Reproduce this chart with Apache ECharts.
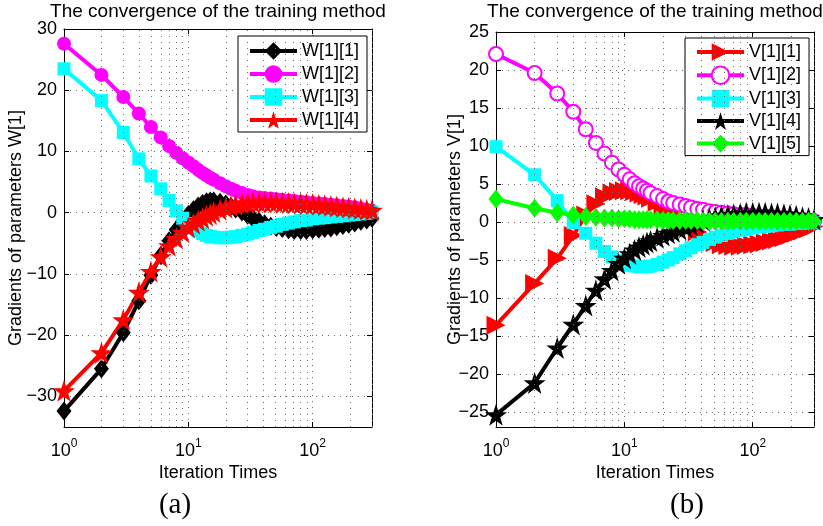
<!DOCTYPE html>
<html><head><meta charset="utf-8">
<script src="https://cdn.jsdelivr.net/npm/echarts@6/dist/echarts.min.js"></script>
<style>html,body{margin:0;padding:0;background:#fff}#c{width:823px;height:526px}</style>
</head><body><div id="c"></div>
<script>
// ---- data ----
const iterations = [1,2,3,4,5,6,7,8,9,10,11,12,13,14,15,16,18,20,22,24,27,30,33,37,41,46,51,57,64,71,80,89,100,112,125,140,156,175,195,218,244,272,300];

const W11 = [-32.4,-25.5,-19.6,-14.4,-10.2,-7.0,-4.6,-2.8,-1.4,-0.3,0.5,1.1,1.5,1.8,1.9,1.9,1.7,1.4,1.0,0.6,0.1,-0.4,-0.9,-1.4,-1.8,-2.2,-2.4,-2.6,-2.8,-2.9,-2.9,-2.9,-2.8,-2.7,-2.6,-2.5,-2.3,-2.1,-1.9,-1.7,-1.4,-1.2,-0.9];
const W12 = [27.6,22.5,18.9,16.2,14.0,12.3,10.9,9.8,8.9,8.2,7.6,7.0,6.5,6.1,5.7,5.4,4.8,4.3,3.9,3.6,3.2,2.9,2.7,2.5,2.4,2.3,2.2,2.1,2.0,1.9,1.8,1.7,1.6,1.5,1.4,1.3,1.2,1.1,1.0,0.9,0.7,0.5,0.3];
const W13 = [23.5,18.3,13.1,8.8,6.0,3.9,2.0,0.3,-0.9,-1.8,-2.5,-3.0,-3.4,-3.7,-3.9,-4.0,-4.1,-4.1,-4.0,-3.9,-3.7,-3.5,-3.2,-2.9,-2.7,-2.4,-2.2,-1.9,-1.7,-1.5,-1.3,-1.2,-1.0,-0.9,-0.8,-0.7,-0.6,-0.5,-0.4,-0.3,-0.2,-0.1,0.1];
const W14 = [-29.1,-22.9,-17.5,-13.0,-9.6,-7.2,-5.4,-4.2,-3.2,-2.4,-1.8,-1.3,-0.9,-0.5,-0.2,0.1,0.5,0.8,1.1,1.3,1.5,1.6,1.7,1.7,1.7,1.7,1.7,1.6,1.6,1.5,1.5,1.4,1.4,1.3,1.2,1.1,1.0,0.9,0.8,0.7,0.6,0.5,0.4];

const V11 = [-13.6,-8.1,-4.8,-1.8,0.9,2.4,3.3,3.8,4.0,4.1,4.1,4.0,3.8,3.6,3.4,3.1,2.6,2.1,1.6,1.2,0.6,0.0,-0.6,-1.3,-1.8,-2.3,-2.7,-3.0,-3.1,-3.2,-3.2,-3.1,-3.0,-2.9,-2.7,-2.5,-2.3,-2.1,-1.8,-1.5,-1.2,-0.9,-0.6];
const V12 = [22.1,19.6,16.9,14.5,12.2,10.4,9.0,7.8,6.9,6.2,5.6,5.1,4.7,4.4,4.1,3.8,3.4,3.0,2.7,2.5,2.3,2.1,1.9,1.7,1.6,1.4,1.3,1.2,1.1,1.0,0.9,0.9,0.8,0.7,0.7,0.6,0.5,0.5,0.4,0.3,0.3,0.2,0.1];
const V13 = [9.9,6.2,2.8,-0.1,-1.5,-2.8,-3.9,-4.6,-5.1,-5.5,-5.7,-5.8,-5.9,-5.9,-5.9,-5.8,-5.6,-5.3,-5.0,-4.7,-4.2,-3.8,-3.4,-3.0,-2.7,-2.3,-2.0,-1.8,-1.5,-1.3,-1.1,-1.0,-0.8,-0.7,-0.6,-0.5,-0.4,-0.3,-0.3,-0.2,-0.2,-0.1,-0.1];
const V14 = [-25.4,-21.2,-16.6,-13.5,-11.0,-9.0,-7.5,-6.4,-5.5,-4.8,-4.2,-3.7,-3.3,-3.0,-2.7,-2.5,-2.1,-1.8,-1.5,-1.3,-1.0,-0.7,-0.4,-0.1,0.2,0.4,0.6,0.8,0.9,1.0,1.1,1.2,1.2,1.2,1.2,1.1,1.1,1.0,0.9,0.8,0.6,0.5,0.3];
const V15 = [3.0,1.8,1.2,0.9,0.7,0.6,0.5,0.5,0.4,0.4,0.4,0.3,0.3,0.3,0.3,0.3,0.3,0.2,0.2,0.2,0.2,0.2,0.2,0.2,0.1,0.1,0.1,0.1,0.1,0.1,0.1,0.1,0.1,0.1,0.1,0.1,0.1,0.1,0.1,0.1,0.1,0.1,0.1];

const namesW = ['W[1][1]','W[1][2]','W[1][3]','W[1][4]'];
const namesV = ['V[1][1]','V[1][2]','V[1][3]','V[1][4]','V[1][5]'];
const minorGridX = [2,3,4,5,6,7,8,9,20,30,40,50,60,70,80,90,200,300];
const titleText = 'The convergence of the training method';
const xName = 'Iteration Times';
const yNameW = 'Gradients of parameters W[1]';
const yNameV = 'Gradients of parameters V[1]';
const panelLabels = ['(a)','(b)'];

// ---- chart ----
const FONT = '"Liberation Sans", Arial, Helvetica, sans-serif';
const SERIF = '"Liberation Serif", "Times New Roman", serif';
const STAR = 'path://M50,2 L61.8,37.6 L99,37.6 L68.9,59.5 L80.3,95 L50,73.1 L19.7,95 L31.1,59.5 L1,37.6 L38.2,37.6 Z';
const DOT = {type:[1,5], color:'#6a6a6a', width:1};
const minus = v => String(v).replace('-', '\u2212');

function xAx(gi, pos) {
  const bottom = pos === 'bottom';
  return {
    type:'log', logBase:10, min:1, max:300, gridIndex:gi, position:pos,
    axisLine:{show:true, onZero:false, lineStyle:{color:'#000', width:1}},
    axisTick:{show:true, inside:true, length:5, lineStyle:{color:'#000'}},
    axisLabel:{show:bottom, margin:11, color:'#000',
      formatter: v => { const e = Math.log10(v), r = Math.round(e); return Math.abs(e-r) > 1e-6 ? '' : '{b|10}{s|' + r + '}'; },
      rich:{ b:{fontSize:18, fontFamily:FONT, color:'#000', lineHeight:22, verticalAlign:'bottom'},
             s:{fontSize:12, fontFamily:FONT, color:'#000', lineHeight:12, verticalAlign:'top'} } },
    splitLine:{show:bottom, lineStyle:DOT},
    name: bottom ? xName : '', nameLocation:'middle', nameGap:37, nameMoveOverlap:false,
    nameTextStyle:{fontSize:18, fontFamily:FONT, color:'#000'}
  };
}
function yAx(gi, pos, min, max, split, step, nm, gap) {
  const left = pos === 'left';
  return {
    type:'value', gridIndex:gi, position:pos, min, max, splitNumber:split,
    axisLine:{show:true, onZero:false, lineStyle:{color:'#000', width:1}},
    axisTick:{show:true, inside:true, length:5, lineStyle:{color:'#000'}},
    axisLabel:{show:left, margin:7, color:'#000', fontSize:18, fontFamily:FONT,
      formatter: v => (Math.abs(v % step) < 1e-9 ? minus(v) : '')},
    splitLine:{show:left, lineStyle:DOT},
    name: left ? nm : '', nameLocation:'middle', nameRotate:90, nameGap:gap, nameMoveOverlap:false,
    nameTextStyle:{fontSize:18, fontFamily:FONT, color:'#000'}
  };
}
function line(name, vals, color, symbol, size, gi, extra) {
  return Object.assign({
    type:'line', name, xAxisIndex:gi*2, yAxisIndex:gi*2,
    data: iterations.map((x,i) => [x, vals[i]]),
    symbol, symbolSize:size, showAllSymbol:true, clip:false, z:3,
    lineStyle:{color, width:4},
    itemStyle:{color, borderColor:color, borderWidth:0},
    emphasis:{disabled:true}, animation:false
  }, extra || {});
}
function gridLines(gi) {
  return {type:'line', xAxisIndex:gi*2, yAxisIndex:gi*2, data:[], silent:true, z:1, animation:false,
    markLine:{silent:true, symbol:['none','none'], label:{show:false}, lineStyle:DOT, animation:false,
      emphasis:{disabled:true}, data: minorGridX.map(v => ({xAxis:v}))}};
}
function legend(names, left, top, padding, gap) {
  return {data:names, orient:'vertical', left, top, backgroundColor:'#fff', borderColor:'#000', borderWidth:1,
    padding, itemGap:gap, itemWidth:47, itemHeight:22, selectedMode:false,
    lineStyle:{width:4},
    textStyle:{fontSize:18, fontFamily:FONT, color:'#000'}};
}

const chart = echarts.init(document.getElementById('c'), null, {renderer:'canvas'});
chart.setOption({
  animation:false,
  backgroundColor:'#fff',
  grid:[{left:64, top:29, width:308, height:398}, {left:496, top:32, width:318, height:395}],
  xAxis:[xAx(0,'bottom'), xAx(0,'top'), xAx(1,'bottom'), xAx(1,'top')],
  yAxis:[yAx(0,'left',-35,30,6,10,yNameW,39), yAx(0,'right',-35,30,6,10,'',0),
         yAx(1,'left',-27,25,10,5,yNameV,32), yAx(1,'right',-27,25,10,5,'',0)],
  legend:[legend(namesW,238,36,[6,8,3,10],5), legend(namesV,685,38,[5,8,3,10],4.5)],
  series:[
    gridLines(0), gridLines(1),
    line(namesW[0], W11, '#000000', 'diamond', [15,19], 0),
    line(namesW[1], W12, '#ff00ff', 'circle', 14, 0),
    line(namesW[2], W13, '#00ffff', 'rect', 13, 0),
    line(namesW[3], W14, '#ff0000', STAR, 22, 0),
    line(namesV[0], V11, '#ff0000', 'triangle', 19, 1, {symbolRotate:-90}),
    line(namesV[1], V12, '#ff00ff', 'emptyCircle', 14, 1, {itemStyle:{color:'#ff00ff', borderColor:'#ff00ff', borderWidth:3}}),
    line(namesV[2], V13, '#00ffff', 'rect', 13, 1),
    line(namesV[3], V14, '#000000', STAR, 22, 1),
    line(namesV[4], V15, '#00ff00', 'diamond', [15,19], 1)
  ],
  graphic:[
    {type:'text', x:218, y:12, style:{text:titleText, font:'19px ' + FONT, fill:'#000', align:'center', verticalAlign:'middle'}},
    {type:'text', x:655, y:12, style:{text:titleText, font:'19px ' + FONT, fill:'#000', align:'center', verticalAlign:'middle'}},
    {type:'text', x:175, y:505, style:{text:panelLabels[0], font:'29px ' + SERIF, fill:'#000', align:'center', verticalAlign:'middle'}},
    {type:'text', x:687, y:505, style:{text:panelLabels[1], font:'29px ' + SERIF, fill:'#000', align:'center', verticalAlign:'middle'}}
  ]
});
</script></body></html>
